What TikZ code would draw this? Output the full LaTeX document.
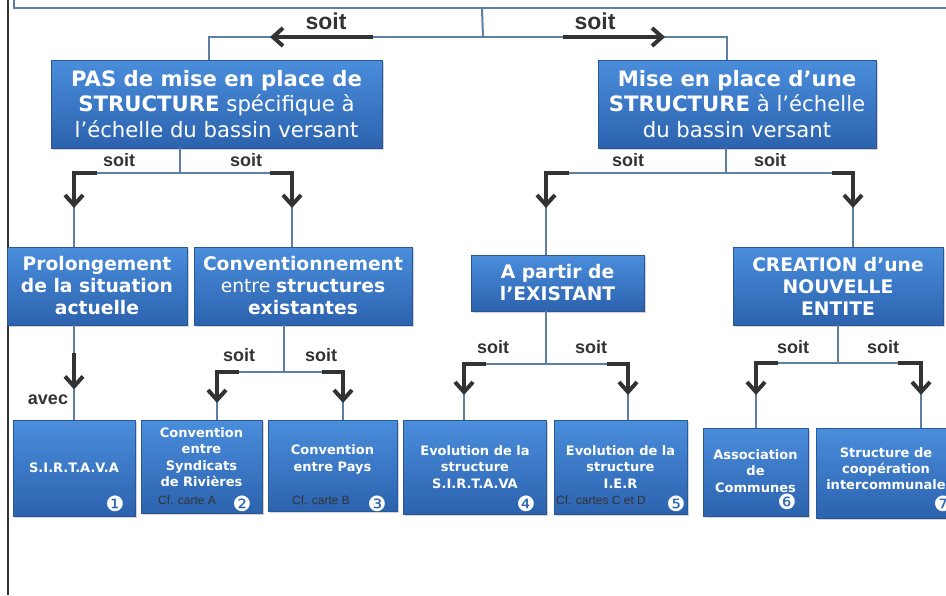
\documentclass[tikz,border=0pt]{standalone}
\usepackage{fontspec}
\setmainfont{DejaVu Sans}
\newfontfamily\soitfont{Liberation Sans}
\usetikzlibrary{arrows.meta,shadows,calc}

\definecolor{boxtop}{HTML}{4A8EDC}
\definecolor{boxbot}{HTML}{2C62AE}
\definecolor{boxline}{HTML}{2A5894}
\definecolor{linkgrey}{HTML}{5E7EA3}
\definecolor{darkarrow}{HTML}{333333}

\tikzset{
  box/.style={rectangle, draw=boxline, line width=0.8pt, top color=boxtop,
    bottom color=boxbot, text=white, align=center, inner sep=2pt,
    drop shadow={shadow xshift=1.5pt, shadow yshift=-2pt, opacity=.35}},
  big box/.style={box, font=\fontsize{21.2}{25.5}\selectfont},
  mid box/.style={box, font=\fontsize{18.7}{22}\selectfont\bfseries},
  small box/.style={box},
  txt3/.style={text=white, align=center, font=\fontsize{13}{16.3}\selectfont\bfseries},
  link/.style={draw=linkgrey, line width=2pt},
  fleche/.style={draw=darkarrow, line width=4pt, -{Straight Barb[length=10pt,width=18pt]}},
  soit/.style={text=darkarrow, font=\soitfont\fontsize{18}{18}\selectfont\bfseries},
  big soit/.style={soit, font=\soitfont\fontsize{23}{23}\selectfont\bfseries},
  cf/.style={text=black!80, font=\soitfont\fontsize{12}{12}\selectfont},
  num/.style={text=white, font=\fontsize{21}{21}\selectfont, inner sep=0pt}
}

\begin{document}
\begin{tikzpicture}[x=1pt,y=-1pt]
\useasboundingbox (0,0) rectangle (946,595);
% cadre du haut et trait de gauche
\node[draw=linkgrey, line width=2pt, minimum width=936, minimum height=40] (cadre) at (482,-12) {};
\draw[darkarrow, line width=2.5pt] (8,0) -- (8,595);

%niveau 1
\node[big box, minimum width=331, minimum height=88] (pas) at (216.5,104)
  {\textbf{PAS de mise en place de}\\\textbf{STRUCTURE} spécifique à\\l’échelle du bassin versant};
\node[big box, minimum width=278, minimum height=88] (mise) at (737,104)
  {\textbf{Mise en place d’une}\\\textbf{STRUCTURE} à l’échelle\\du bassin versant};

%niveau 2
\node[mid box, minimum width=180, minimum height=78] (prolong) at (97,286)
  {Prolongement\\de la situation\\actuelle};
\node[mid box, minimum width=218, minimum height=78] (conv) at (303,286)
  {Conventionnement\\\mdseries entre \bfseries structures\\existantes};
\node[mid box, minimum width=173, minimum height=56] (apartir) at (557.5,283)
  {A partir de\\l’EXISTANT};
\node[mid box, minimum width=210, minimum height=78] (creation) at (838,286)
  {CREATION d’une\\NOUVELLE\\ENTITE};

%niveau 3
\node[small box, minimum width=122, minimum height=96] (sirtava) at (74,468) {};
\node[small box, minimum width=121, minimum height=93] (syndic) at (201.5,466.5) {};
\node[small box, minimum width=129, minimum height=91] (pays) at (332.5,465.5) {};
\node[small box, minimum width=143, minimum height=94] (evo1) at (475,467) {};
\node[small box, minimum width=133, minimum height=94] (evo2) at (620.5,467) {};
\node[small box, minimum width=105, minimum height=88] (assoc) at (755.5,472) {};
\node[small box, minimum width=140, minimum height=90] (struct) at (886,473) {};

\node[txt3] (sirtava-t) at (sirtava.center) {S.I.R.T.A.V.A};
\node[txt3] (syndic-t) at ([yshift=9.5]syndic.center) {Convention\\entre\\Syndicats\\de Rivières};
\node[txt3] (pays-t) at ([yshift=6]pays.center) {Convention\\entre Pays};
\node[txt3] (evo1-t) at (evo1.center) {Evolution de la\\structure\\S.I.R.T.A.VA};
\node[txt3] (evo2-t) at (evo2.center) {Evolution de la\\structure\\I.E.R};
\node[txt3] (assoc-t) at ([yshift=1]assoc.center) {Association\\de\\Communes};
\node[txt3] (struct-t) at ([yshift=4.5]struct.center) {Structure de\\coopération\\intercommunale};

\node[cf] (cf-a) at (187,500) {Cf. carte A};
\node[cf] (cf-b) at (321,500) {Cf. carte B};
\node[cf] (cf-cd) at (601,500) {Cf. cartes C et D};
\node[num] (n1) at (115,504) {❶};
\node[num] (n2) at (242,504) {❷};
\node[num] (n3) at (377,504) {❸};
\node[num] (n4) at (526,504) {❹};
\node[num] (n5) at (676,504) {❺};
\node[num] (n6) at (787,502) {❻};
\node[num] (n7) at (943,504) {❼};

%liens haut
\coordinate (t0) at (483,37);
\draw[link] (cadre.south) -- (t0);
\draw[link] (t0) -| ([xshift=-7.5]pas.north);
\draw[link] (t0) -| ([xshift=-10]mise.north);
\draw[fleche] ($(t0)+(-110,0)$) -- ($(t0)+(-213,0)$);
\draw[fleche] ($(t0)+(80,0)$) -- ($(t0)+(182,0)$);
\node[big soit] (soit-g) at (326,21) {soit};
\node[big soit] (soit-d) at (595,21) {soit};

%liens PAS
\coordinate (p0) at (180,173);
\draw[link] (p0 |- pas.south) -- (p0);
\draw[link] (p0) -| ([xshift=-23]prolong.north);
\draw[link] (p0) -| ([xshift=-11]conv.north);
\draw[fleche] ($(p0)+(-83,0)$) -| ($(p0)+(-106,35)$);
\draw[fleche] ($(p0)+(90,0)$) -| ($(p0)+(112,35)$);
\node[soit] (soit-p1) at (119,160) {soit};
\node[soit] (soit-p2) at (246,160) {soit};

%liens Mise en place
\coordinate (m0) at (726,173);
\draw[link] (m0 |- mise.south) -- (m0);
\draw[link] (m0) -| ([xshift=-11.5]apartir.north);
\draw[link] (m0) -| ([xshift=15]creation.north);
\draw[fleche] ($(m0)+(-157,0)$) -| ($(m0)+(-180,35)$);
\draw[fleche] ($(m0)+(106,0)$) -| ($(m0)+(127,35)$);
\node[soit] (soit-m1) at (628,160) {soit};
\node[soit] (soit-m2) at (770,160) {soit};

%liens niveau 2
\draw[link] ([xshift=-23]prolong.south) -- (sirtava.north);
\draw[fleche] ($(prolong.south)+(-23,28)$) -- ++(0,36);
\node[soit] (avec) at (48,400) {avec};

\coordinate (c0) at (284,372);
\draw[link] (c0 |- conv.south) -- (c0);
\draw[link] (c0) -| ([xshift=15.5]syndic.north);
\draw[link] (c0) -| ([xshift=10.5]pays.north);
\draw[fleche] ($(c0)+(-45,0)$) -| ($(c0)+(-67,31)$);
\draw[fleche] ($(c0)+(38,0)$) -| ($(c0)+(59,31)$);
\node[soit] (soit-c1) at (239,355) {soit};
\node[soit] (soit-c2) at (321,355) {soit};

\coordinate (a0) at (546,364);
\draw[link] (a0 |- apartir.south) -- (a0);
\draw[link] (a0) -| ([xshift=-11]evo1.north);
\draw[link] (a0) -| ([xshift=7.5]evo2.north);
\draw[fleche] ($(a0)+(-60,0)$) -| ($(a0)+(-82,31)$);
\draw[fleche] ($(a0)+(61,0)$) -| ($(a0)+(82,31)$);
\node[soit] (soit-a1) at (493,347) {soit};
\node[soit] (soit-a2) at (591,347) {soit};

\coordinate (n0) at (838,363);
\draw[link] (n0 |- creation.south) -- (n0);
\draw[link] (n0) -| ([xshift=0.5]assoc.north);
\draw[link] (n0) -| ([xshift=35]struct.north);
\draw[fleche] ($(n0)+(-60,0)$) -| ($(n0)+(-82,32)$);
\draw[fleche] ($(n0)+(60,0)$) -| ($(n0)+(83,32)$);
\node[soit] (soit-n1) at (793,347) {soit};
\node[soit] (soit-n2) at (883,347) {soit};
\end{tikzpicture}
\end{document}
